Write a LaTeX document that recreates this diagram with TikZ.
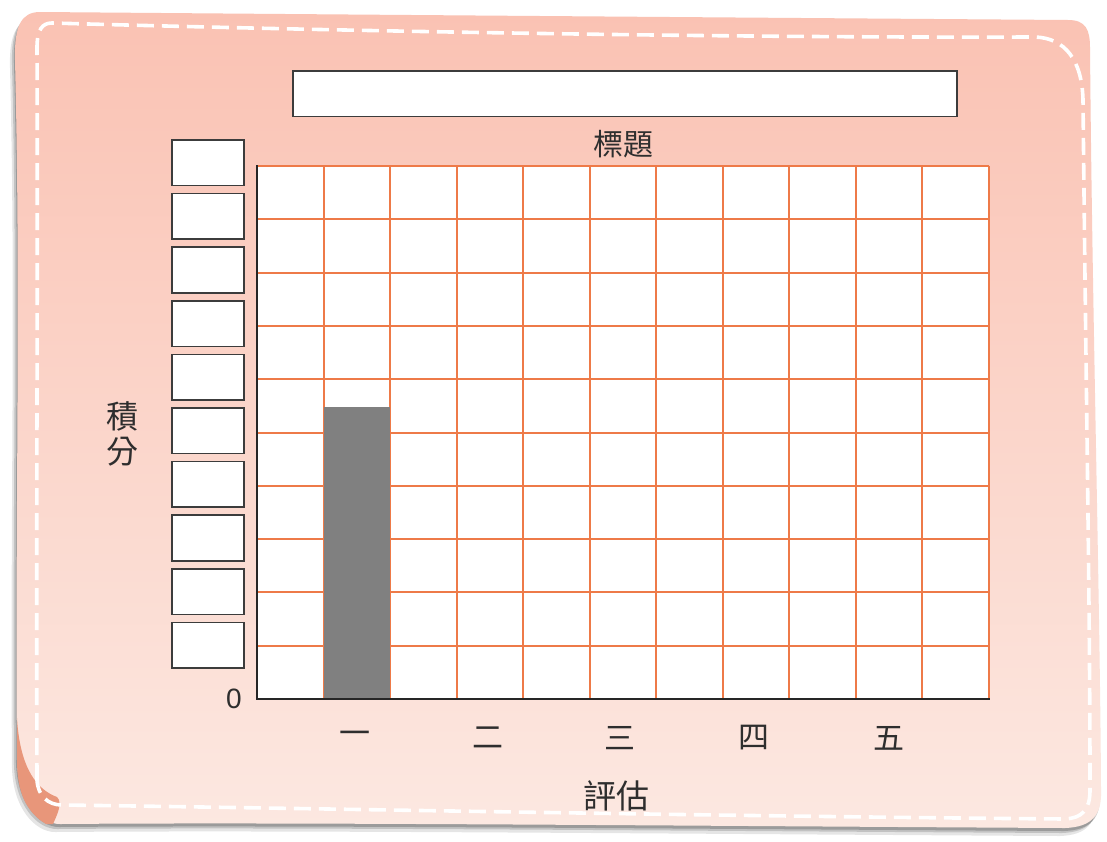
\documentclass[tikz,border=0pt]{standalone}
\usepackage{fontspec}
\newfontfamily\cjk{Noto Sans CJK TC}
\setsansfont{Liberation Sans}
\definecolor{paperTop}{HTML}{FAC2B3}
\definecolor{paperMid}{HTML}{FAD0C4}
\definecolor{paperBot}{HTML}{FCE8E1}
\definecolor{gridOr}{HTML}{EE7A48}
\definecolor{barGray}{HTML}{808080}
\definecolor{boxLine}{HTML}{3C3C3C}
\definecolor{flapCol}{HTML}{E8967A}
\definecolor{txt}{HTML}{2E2E2E}
\tikzset{
  scorebox/.style={draw=boxLine, line width=1.6pt, fill=white, minimum width=72pt, minimum height=45.5pt, inner sep=0pt, outer sep=0pt},
  titlebox/.style={draw=boxLine, line width=1.6pt, fill=white, minimum width=664pt, minimum height=45.5pt, inner sep=0pt},
  gridline/.style={draw=gridOr, line width=2pt},
  axisline/.style={draw=black!85, line width=2.4pt, line cap=rect},
  lab/.style={text=txt, inner sep=0pt, font=\cjk\fontsize{31}{36}\selectfont},
  stitch/.style={draw=white, line width=3.6pt, dash pattern=on 17pt off 8pt},
}
\begin{document}
\begin{tikzpicture}[x=1pt,y=-1pt]
\useasboundingbox (0,0) rectangle (1107,841);
\fill[white] (0,0) rectangle (1107,841);
% paper outline
\def\paperpath{(40,12) .. controls (400,15) and (800,18) .. (1068,20)
  .. controls (1086,20) and (1090,30) .. (1090,48)
  .. controls (1092,300) and (1100,600) .. (1101,790)
  .. controls (1102,815) and (1092,827) .. (1065,828)
  .. controls (700,826) and (300,822) .. (60,824)
  .. controls (40,824) and (18,800) .. (17,760)
  .. controls (15,500) and (21,300) .. (15,60)
  .. controls (14,25) and (22,12) .. (40,12) -- cycle}
% shadow
\begin{scope}[shift={(-5,8)}]
\fill[black, opacity=0.10] \paperpath;
\end{scope}
\begin{scope}[shift={(-3,5)}]
\fill[black, opacity=0.15] \paperpath;
\end{scope}
\begin{scope}[shift={(-1,3)}]
\fill[black, opacity=0.2] \paperpath;
\end{scope}
% paper
\shade[top color=paperTop, middle color=paperMid, bottom color=paperBot] \paperpath;
% curled corner
\fill[flapCol] (17,718) .. controls (20,770) and (38,790) .. (57,797)
  .. controls (63,803) and (57,815) .. (53,824) -- (46,824)
  .. controls (26,812) and (17,792) .. (17,760) -- cycle;
% stitching
\draw[stitch] (37,780) .. controls (36,500) and (38,300) .. (37,48)
  .. controls (37,30) and (42,23) .. (52,23)
  .. controls (300,30) and (700,38) .. (1035,37)
  .. controls (1065,38) and (1082,60) .. (1083,100)
  .. controls (1086,400) and (1090,600) .. (1090,790)
  .. controls (1090,810) and (1082,818) .. (1065,819)
  .. controls (700,816) and (300,808) .. (62,805)
  .. controls (48,805) and (38,796) .. (37,780);
% title box
\node[titlebox] (titlebox) at (625,93.75) {};
\node[lab, font=\cjk\fontsize{30}{34}\selectfont] (title) at (623,144) {標題};
% grid
\fill[white] (257,166) rectangle (989,699);
\foreach \j in {0,...,9} \draw[gridline] (257,{166+\j*53.3}) -- (989,{166+\j*53.3});
\foreach \i in {1,...,11} \draw[gridline] ({257+\i*66.545},166) -- ({257+\i*66.545},699);
% bar
\fill[barGray] (323.5,406.5) rectangle (390.1,699);
% axes
\coordinate (origin) at (257,699);
\coordinate (ytop) at (257,166);
\coordinate (xend) at (989,699);
\draw[axisline] (ytop) -- (origin) -- (xend);
% score boxes
\foreach \k in {0,...,9} \node[scorebox] (b\k) at (208,{162.75+\k*53.6}) {};
% labels
\node[text=txt, font=\sffamily\fontsize{28}{30}\selectfont, inner sep=0pt] (zero) at (234,699) {0};
\node[lab, align=center, font=\cjk\fontsize{32}{35}\selectfont] (ylab) at (122,434) {積\\分};
\node[lab] (x1) at (355,738) {一};
\node[lab] (x2) at (488,738) {二};
\node[lab] (x3) at (620,738) {三};
\node[lab] (x4) at (754,738) {四};
\node[lab] (x5) at (889,738) {五};
\node[lab, font=\cjk\fontsize{33}{36}\selectfont] (xlab) at (616,796) {評估};
\end{tikzpicture}
\end{document}
